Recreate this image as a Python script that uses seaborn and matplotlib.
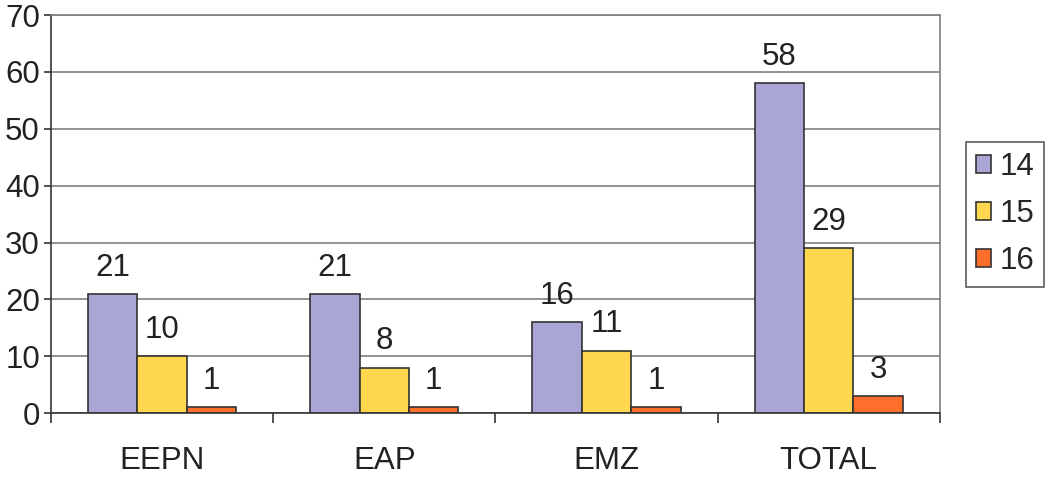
import matplotlib
matplotlib.use("Agg")
import matplotlib.pyplot as plt
import seaborn as sns
import pandas as pd

categories = ["EEPN", "EAP", "EMZ", "TOTAL"]
series_names = ["14", "15", "16"]
values_14 = [21, 21, 16, 58]
values_15 = [10, 8, 11, 29]
values_16 = [1, 1, 1, 3]
colors = ["#A9A5D5", "#FFD84F", "#FF6E2B"]

rows = []
for name, vals in zip(series_names, [values_14, values_15, values_16]):
    for c, v in zip(categories, vals):
        rows.append({"cat": c, "series": name, "value": v})
df = pd.DataFrame(rows)

sns.set_style("white")
plt.rcParams['font.family'] = ['Liberation Sans', 'DejaVu Sans']

FS = 22.5
fig = plt.figure(figsize=(10.48, 4.86), dpi=100)
ax = fig.add_axes([0.0487, 0.150, 0.848, 0.819])

sns.barplot(data=df, x="cat", y="value", hue="series", palette=colors,
            width=0.667, ax=ax, edgecolor="#333333", linewidth=1.2,
            saturation=1, legend=True)

for cont in ax.containers:
    ax.bar_label(cont, labels=[f"{int(v)}" for v in cont.datavalues],
                 padding=8, fontsize=FS, color="#222222")

ax.set_ylim(0, 70)
ax.set_xlim(-0.5, 3.5)
ax.set_yticks(range(0, 71, 10))
ax.yaxis.grid(True, color="#808080", linewidth=1.2)
ax.set_axisbelow(True)
ax.set_xlabel("")
ax.set_ylabel("")
ax.tick_params(axis="y", labelsize=FS, length=5, width=1.2, color="#333333",
               left=True, labelcolor="#222222", pad=3)
ax.tick_params(axis="x", which="major", labelsize=FS, length=0, pad=24,
               labelcolor="#222222")
ax.set_xticks([-0.5, 0.5, 1.5, 2.5, 3.5], minor=True)
ax.tick_params(axis="x", which="minor", length=7, width=1.2, color="#333333",
               bottom=True, direction="out")

for s in ["left", "bottom"]:
    ax.spines[s].set_color("#333333")
    ax.spines[s].set_linewidth(1.2)
for s in ["right", "top"]:
    ax.spines[s].set_color("#808080")
    ax.spines[s].set_linewidth(1.2)

leg = ax.legend(loc="center left", bbox_to_anchor=(1.029, 0.5), frameon=True,
                fontsize=FS, handlelength=0.5, handleheight=0.5,
                handletextpad=0.25, labelspacing=0.55, borderpad=0.33,
                borderaxespad=0, fancybox=False, edgecolor="#333333")
leg.get_frame().set_linewidth(1.2)

fig.savefig("out.png", dpi=100)
